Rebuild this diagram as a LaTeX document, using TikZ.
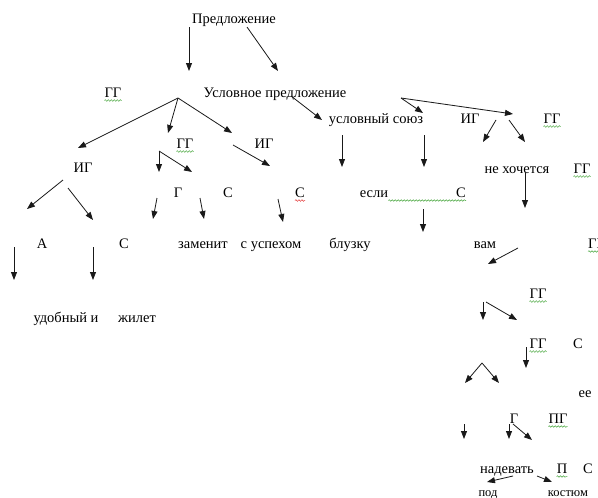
\documentclass[tikz,border=0pt]{standalone}
\usepackage{fontspec}
\setmainfont{Liberation Serif}
\usetikzlibrary{arrows.meta,decorations.pathmorphing}
\definecolor{spellgreen}{RGB}{70,165,60}
\definecolor{spellred}{RGB}{225,40,40}

\begin{document}
\begin{tikzpicture}[x=1pt,y=-1pt,
	word/.style={anchor=base,inner sep=0pt,font=\fontsize{14.5}{16}\selectfont},
	small word/.style={word,font=\fontsize{12.5}{14}\selectfont},
	arr/.style={line width=0.8pt,black!90,-{Triangle[length=8pt,width=6pt]}},
	wavy/.style={decorate,decoration={snake,amplitude=0.8pt,segment length=3pt},line width=0.5pt}]
	\useasboundingbox (0,0) rectangle (598,498);
	% words
	\path (234,23) node(top)[word]{Предложение}
	(113,97) node(gg1)[word]{ГГ}
	(275,97) node(usl)[word]{Условное предложение}
	(185,148) node(gg2)[word]{ГГ}
	(264,148) node(ig1)[word]{ИГ}
	(376,123) node(soyuz)[word]{условный союз}
	(470,123) node(ig2)[word]{ИГ}
	(552,123) node(gg3)[word]{ГГ}
	(83,172) node(ig3)[word]{ИГ}
	(517,173) node(hoch)[word]{не хочется}
	(582,173) node(gg4)[word]{ГГ}
	(178,197) node(g1)[word]{Г}
	(228,197) node(s1)[word]{С}
	(300,197) node(s2)[word]{С}
	(374,197) node(esli)[word]{если}
	(461,197) node(s3)[word]{С}
	(42,248) node(a)[word]{А}
	(124,248) node(s4)[word]{С}
	(203,248) node(zamenit)[word]{заменит}
	(271,248) node(uspeh)[word]{с успехом}
	(350,248) node(bluzku)[word]{блузку}
	(485,248) node(vam)[word]{вам}
	(588,248) node(gg5)[word,anchor=base west]{ГГ}
	(66,322) node(udob)[word]{удобный и}
	(137,322) node(zhilet)[word]{жилет}
	(538,298) node(gg6)[word]{ГГ}
	(538,348) node(gg7)[word]{ГГ}
	(578,348) node(s5)[word]{С}
	(585,397) node(ee)[word]{ее}
	(514,423) node(g2)[word]{Г}
	(558,423) node(pg)[word]{ПГ}
	(507,473) node(nadev)[word]{надевать}
	(562,473) node(p)[word]{П}
	(588,473) node(s6)[word]{С}
	(488,496) node(pod)[small word]{под}
	(568,496) node(kostyum)[small word]{костюм};

	% spell-check underlines
	\draw[wavy,spellgreen] ([yshift=-3.5pt]gg1.base west) -- ([yshift=-3.5pt]gg1.base east);
	\draw[wavy,spellgreen] ([yshift=-3.5pt]gg2.base west) -- ([yshift=-3.5pt]gg2.base east);
	\draw[wavy,spellgreen] ([yshift=-3.5pt]gg3.base west) -- ([yshift=-3.5pt]gg3.base east);
	\draw[wavy,spellgreen] ([yshift=-3.5pt]gg4.base west) -- ([yshift=-3.5pt]gg4.base east);
	\draw[wavy,spellgreen] ([yshift=-3.5pt]gg5.base west) -- ([yshift=-3.5pt]gg5.base east);
	\draw[wavy,spellgreen] ([yshift=-3.5pt]gg6.base west) -- ([yshift=-3.5pt]gg6.base east);
	\draw[wavy,spellgreen] ([yshift=-3.5pt]gg7.base west) -- ([yshift=-3.5pt]gg7.base east);
	\draw[wavy,spellgreen] ([yshift=-3.5pt]pg.base west) -- ([yshift=-3.5pt]pg.base east);
	\draw[wavy,spellgreen] ([yshift=-3.5pt]p.base west) -- ([yshift=-3.5pt]p.base east);
	\draw[wavy,spellgreen] ([yshift=-3.5pt]esli.base east) -- ([yshift=-3.5pt]s3.base east);
	\draw[wavy,spellred] ([yshift=-3.5pt]s2.base west) -- ([yshift=-3.5pt]s2.base east);

	% arrow ends
	\path (189,27) coordinate(t1) (189,71) coordinate(t1e)
	(247,27) coordinate(t2) (278,71) coordinate(t2e)
	(178,98) coordinate(f) (78,148) coordinate(f1) (168,133) coordinate(f2) (232,133) coordinate(f3)
	(233,145) coordinate(i1) (270,166) coordinate(i1e)
	(159,151) coordinate(h) (159,172) coordinate(h1) (192,172) coordinate(h2)
	(63,180) coordinate(l1) (27,209) coordinate(l1e)
	(68,188) coordinate(l2) (93,220) coordinate(l2e)
	(157,198) coordinate(m1) (153,219) coordinate(m1e)
	(200,198) coordinate(m2) (204,219) coordinate(m2e)
	(278,199) coordinate(m3) (283,222) coordinate(m3e)
	(14,247) coordinate(d1) (14,280) coordinate(d1e)
	(93,247) coordinate(d2) (93,280) coordinate(d2e)
	(291,96) coordinate(u) (322,120) coordinate(ue)
	(401,98) coordinate(k) (423,113) coordinate(k1) (513,114) coordinate(k2)
	(496,120) coordinate(n1) (483,142) coordinate(n1e)
	(509,120) coordinate(n2) (525,142) coordinate(n2e)
	(342,135) coordinate(v1) (342,167) coordinate(v1e)
	(424,135) coordinate(v2) (424,167) coordinate(v2e)
	(423,209) coordinate(v3) (423,232) coordinate(v3e)
	(525,173) coordinate(v4) (525,208) coordinate(v4e)
	(518,248) coordinate(w) (488,264) coordinate(we)
	(483,302) coordinate(r1) (483,320) coordinate(r1e)
	(486,302) coordinate(r2) (517,320) coordinate(r2e)
	(526,347) coordinate(r3) (526,368) coordinate(r3e)
	(482,363) coordinate(q) (465,383) coordinate(q1) (499,383) coordinate(q2)
	(464,424) coordinate(z1) (464,439) coordinate(z1e)
	(509,424) coordinate(z2) (509,439) coordinate(z2e)
	(513,424) coordinate(z3) (532,440) coordinate(z3e)
	(513,476) coordinate(b1) (487,482) coordinate(b1e)
	(537,476) coordinate(b2) (552,482) coordinate(b2e);

	% arrows
	\draw[arr] (t1)--(t1e);
	\draw[arr] (t2)--(t2e);
	\draw[arr] (f)--(f1);
	\draw[arr] (f)--(f2);
	\draw[arr] (f)--(f3);
	\draw[arr] (i1)--(i1e);
	\draw[arr] (h)--(h1);
	\draw[arr] (h)--(h2);
	\draw[arr] (l1)--(l1e);
	\draw[arr] (l2)--(l2e);
	\draw[arr] (m1)--(m1e);
	\draw[arr] (m2)--(m2e);
	\draw[arr] (m3)--(m3e);
	\draw[arr] (d1)--(d1e);
	\draw[arr] (d2)--(d2e);
	\draw[arr] (u)--(ue);
	\draw[arr] (k)--(k1);
	\draw[arr] (k)--(k2);
	\draw[arr] (n1)--(n1e);
	\draw[arr] (n2)--(n2e);
	\draw[arr] (v1)--(v1e);
	\draw[arr] (v2)--(v2e);
	\draw[arr] (v3)--(v3e);
	\draw[arr] (v4)--(v4e);
	\draw[arr] (w)--(we);
	\draw[arr] (r1)--(r1e);
	\draw[arr] (r2)--(r2e);
	\draw[arr] (r3)--(r3e);
	\draw[arr] (q)--(q1);
	\draw[arr] (q)--(q2);
	\draw[arr] (z1)--(z1e);
	\draw[arr] (z2)--(z2e);
	\draw[arr] (z3)--(z3e);
	\draw[arr] (b1)--(b1e);
	\draw[arr] (b2)--(b2e);
\end{tikzpicture}
\end{document}
